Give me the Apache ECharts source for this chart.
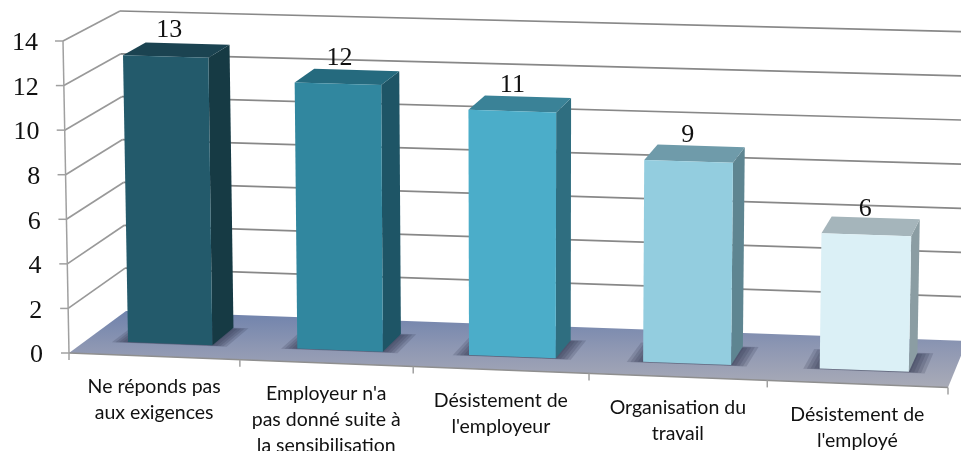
<!DOCTYPE html>
<html>
<head>
<meta charset="utf-8">
<style>html,body{margin:0;padding:0;background:#fff}#c{width:961px;height:451px}</style>
<script src="https://cdn.jsdelivr.net/npm/echarts@6/dist/echarts.min.js"></script>
</head>
<body>
<div id="c"></div>
<script>
const categories = ["Ne réponds pas\naux exigences", "Employeur n'a\npas donné suite à\nla sensibilisation", "Désistement de\nl'employeur", "Organisation du\ntravail", "Désistement de\nl'employé"];
const values = [13, 12, 11, 9, 6];
const yTicks = [0, 2, 4, 6, 8, 10, 12, 14];
const frontColors = ['#235A6B', '#31879F', '#4BADC9', '#93CDDF', '#DBF0F6'];
const sideColors = ['#163A44', '#1E5566', '#2F6E80', '#5E8591', '#8B9DA3'];
const topColors = ['#1B4351', '#256A7E', '#3A8297', '#6F9BAA', '#A5B5BB'];

// oblique view of the flat grid: floor corners, wall heights, lean, depth of the bars
const F0 = [69, 353], F1 = [948, 387.5], B0 = [126, 311], B1 = [967, 341];
const H = { f0: 312, f1: 320, b0: 300, b1: 309 };
const LEAN = 12, WARP = 0.035, T_FRONT = 0.30, T_BACK = 0.71;
const GRID = '#888888', AXIS = '#A0A0A0';
const SERIF = '"Liberation Serif", serif', SANS = 'Lato, sans-serif';
const SHADOW_LAYERS = [0.34, 0.32, 0.30, 0.28, 0.26];

function project(p, t, cs) {
  const u = (p[0] - cs.x) / cs.width;
  const f = (cs.y + cs.height - p[1]) / cs.height;
  const w = u - WARP * u * (1 - u);
  const mix = (a, b, c, d) => (a * (1 - w) + b * w) * (1 - t) + (c * (1 - w) + d * w) * t;
  const x = mix(F0[0], F1[0], B0[0], B1[0]);
  const y = mix(F0[1], F1[1], B0[1], B1[1]);
  const h = mix(H.f0, H.f1, H.b0, H.b1);
  return [x + (w - 0.5) * LEAN * f, y - f * h];
}
const poly = (points, fill, extra) => ({ type: 'polygon', shape: { points }, style: Object.assign({ fill }, extra || {}) });
const seg = (points, stroke, lineWidth) => ({ type: 'polyline', shape: { points }, style: { stroke, lineWidth, fill: null } });

function renderFloor(params, api) {
  const cs = params.coordSys;
  const n = categories.length;
  const y0 = api.coord([0, 0])[1];
  const L = cs.x, R = cs.x + cs.width;
  const pts = [project([L, y0], 0, cs), project([R, y0], 0, cs), project([R, y0], 1, cs), project([L, y0], 1, cs)];
  const kids = [{
    type: 'polygon', shape: { points: pts },
    style: { fill: new echarts.graphic.LinearGradient(0, 0, 0, 1, [
      { offset: 0, color: '#6F82AC' }, { offset: 0.5, color: '#8F98B3' }, { offset: 1, color: '#A9ABB7' }]) }
  }];
  kids.push(seg([pts[0], pts[1]], '#8F8F8F', 1.5));
  for (let i = 0; i <= n; i++) {
    const a = project([L + cs.width * i / n, y0], 0, cs);
    kids.push(seg([a, [a[0], a[1] + 7]], AXIS, 1.5));
  }
  return { type: 'group', children: kids };
}

function renderGrid(params, api) {
  const cs = params.coordSys;
  const v = api.value(0);
  const y = api.coord([0, v])[1];
  const L = cs.x, R = cs.x + cs.width;
  const a = project([L, y], 0, cs), b = project([L, y], 1, cs), c = project([R, y], 1, cs);
  const kids = [seg([[a[0] - 8, a[1]], a], AXIS, 1.5)];
  if (v > 0) {
    kids.push(seg([a, b], '#999999', 1.7));
    kids.push(seg([b, c], GRID, 1.7));
  }
  return { type: 'group', children: kids };
}

function renderAxisLine(params) {
  const cs = params.coordSys;
  const yb = cs.y + cs.height;
  return seg([project([cs.x, yb], 0, cs), project([cs.x, cs.y], 0, cs)], AXIS, 1.5);
}

function renderShadow(params, api) {
  const cs = params.coordSys;
  const i = api.value(0);
  const base = api.coord([i, 0]);
  const w = api.size([1, 0])[0];
  const kids = SHADOW_LAYERS.map((k, j) => {
    const l = [base[0] - w * k, base[1]], r = [base[0] + w * k, base[1]];
    const tA = T_FRONT - 0.005 * (4 - j), tB = T_BACK + 0.008 * (4 - j) - 0.03;
    return poly([project(l, tA, cs), project(r, tA, cs), project(r, tB, cs), project(l, tB, cs)], 'rgba(52,56,80,0.2)');
  });
  return { type: 'group', children: kids };
}

function renderBar(params, api) {
  const cs = params.coordSys;
  const i = api.value(0), v = api.value(1);
  const top = api.coord([i, v]), base = api.coord([i, 0]);
  const hw = api.size([1, 0])[0] * 0.25;
  const L = top[0] - hw, R = top[0] + hw;
  const p = (x, y, t) => project([x, y], t, cs);
  const tf = T_FRONT, tb = T_BACK;
  const mid = p(top[0], top[1], tf);
  const nudge = (4 - i) * (4 - i) * 0.29 - 1;
  return {
    type: 'group',
    children: [
      poly([p(R, base[1], tf), p(R, base[1], tb), p(R, top[1], tb), p(R, top[1], tf)], sideColors[i]),
      poly([p(L, top[1], tf), p(R, top[1], tf), p(R, top[1], tb), p(L, top[1], tb)], topColors[i]),
      poly([p(L, base[1], tf), p(R, base[1], tf), p(R, top[1], tf), p(L, top[1], tf)], frontColors[i]),
      { type: 'text', x: mid[0] + nudge, y: mid[1] - 26,
        style: { text: String(v), font: '26px ' + SERIF, fill: '#111', align: 'center', verticalAlign: 'middle' } }
    ]
  };
}

function renderCatLabel(params, api) {
  const cs = params.coordSys;
  const i = api.value(0);
  const p = project(api.coord([i, 0]), 0, cs);
  return { type: 'text', x: p[0], y: p[1] + 17.5,
    style: { text: categories[i], font: '19.5px ' + SANS, lineHeight: 26, fill: '#111', align: 'center', verticalAlign: 'top' } };
}

const rich = {};
yTicks.forEach(v => { rich['v' + v] = { fontFamily: 'Liberation Serif', fontSize: 26, color: '#111', padding: [5, v * 5 / 14, 0, 0] }; });

const barData = values.map((v, i) => [i, v]);
const enc = { x: 0, y: 1 };
const chart = echarts.init(document.getElementById('c'), null, { renderer: 'canvas' });
chart.setOption({
  animation: false,
  backgroundColor: '#fff',
  grid: { left: 69, top: 41, width: 879, height: 312 },
  xAxis: { type: 'category', data: categories, axisLine: { show: false }, axisTick: { show: false }, axisLabel: { show: false }, splitLine: { show: false } },
  yAxis: {
    type: 'value', min: 0, max: 14, interval: 2,
    axisLine: { show: false }, axisTick: { show: false }, splitLine: { show: false },
    axisLabel: { margin: 26, formatter: v => '{v' + v + '|' + v + '}', rich }
  },
  series: [
    { type: 'custom', name: 'floor', z: 1, silent: true, clip: false, data: [[0, 0]], encode: enc, renderItem: renderFloor },
    { type: 'custom', name: 'gridlines', z: 2, silent: true, clip: false, data: yTicks.map(v => [v]), encode: { y: 0 }, renderItem: renderGrid },
    { type: 'custom', name: 'axis', z: 2, silent: true, clip: false, data: [[0, 0]], encode: enc, renderItem: renderAxisLine },
    { type: 'custom', name: 'shadows', z: 3, silent: true, clip: false, data: barData, encode: enc, renderItem: renderShadow },
    { type: 'custom', name: 'bars', z: 4, clip: false, data: barData, encode: enc, renderItem: renderBar },
    { type: 'custom', name: 'categoryLabels', z: 5, silent: true, clip: false, data: barData, encode: enc, renderItem: renderCatLabel }
  ]
});
</script>
</body>
</html>
